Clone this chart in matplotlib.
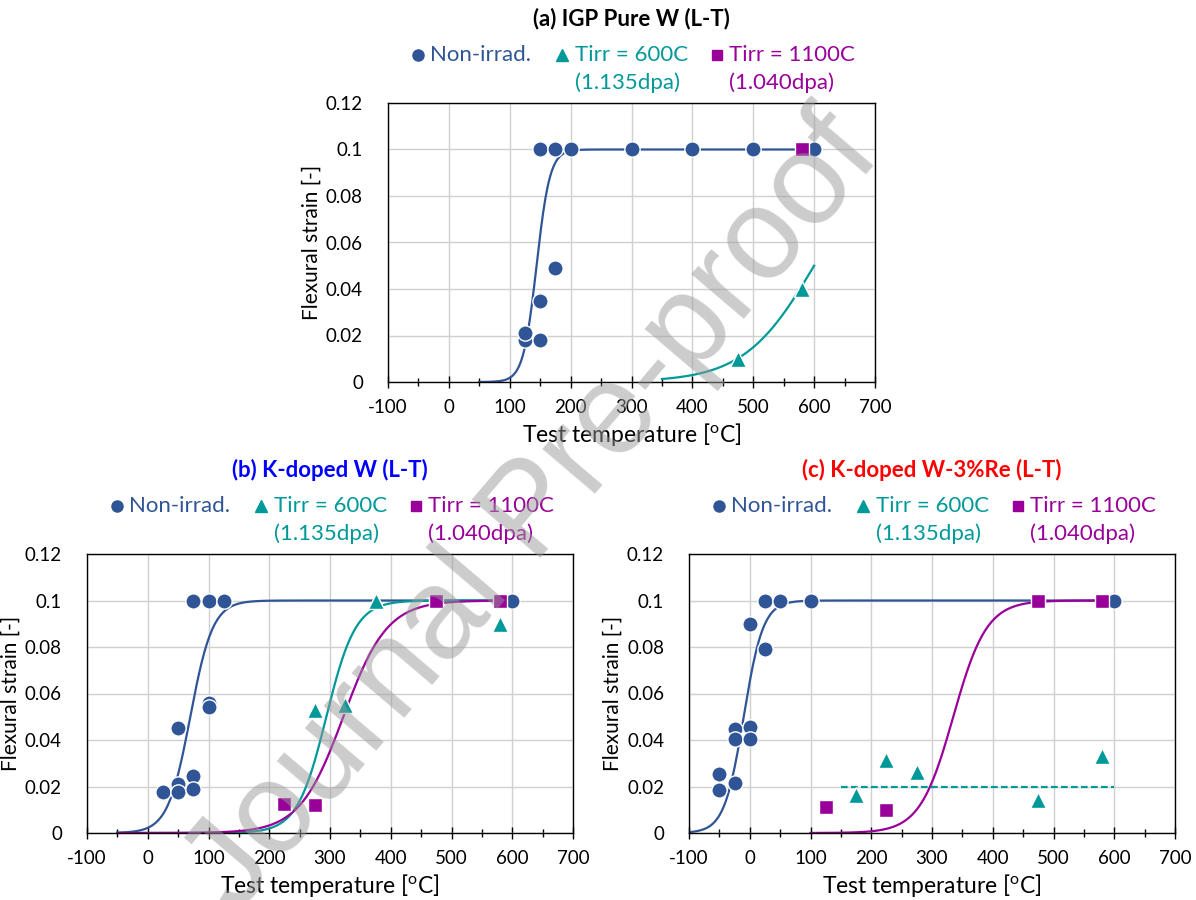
import numpy as np
import matplotlib
matplotlib.use("Agg")
import matplotlib.pyplot as plt
from matplotlib.lines import Line2D
from matplotlib.ticker import MultipleLocator, FuncFormatter

plt.rcParams['font.family'] = ['Lato', 'DejaVu Sans']
plt.rcParams['mathtext.fontset'] = 'custom'
plt.rcParams['mathtext.rm'] = 'Lato'
plt.rcParams['axes.unicode_minus'] = False

BLUE = '#2F5597'
TEAL = '#009999'
PURPLE = '#990099'

# ---- data: (a) IGP pure W ----
a_ni_T = [125, 125, 150, 150, 175, 150, 175, 200, 300, 400, 500, 600]
a_ni_s = [0.018, 0.021, 0.018, 0.035, 0.049, 0.1, 0.1, 0.1, 0.1, 0.1, 0.1, 0.1]
a_600_T = [475, 580]
a_600_s = [0.01, 0.04]
a_1100_T = [580]
a_1100_s = [0.1]

# ---- data: (b) K-doped W ----
b_ni_T = [25, 50, 50, 75, 75, 50, 100, 100, 75, 100, 125, 600]
b_ni_s = [0.0175, 0.021, 0.0175, 0.0245, 0.019, 0.045, 0.056, 0.054, 0.1, 0.1, 0.1, 0.1]
b_600_T = [275, 325, 375, 475, 580]
b_600_s = [0.053, 0.055, 0.1, 0.1, 0.09]
b_1100_T = [225, 275, 475, 580]
b_1100_s = [0.0125, 0.012, 0.1, 0.1]

# ---- data: (c) K-doped W-3%Re ----
c_ni_T = [-50, -50, -25, -25, -25, 0, 0, 0, 25, 25, 50, 100, 600]
c_ni_s = [0.0254, 0.0183, 0.0217, 0.0448, 0.0403, 0.0454, 0.0405, 0.0897, 0.0791, 0.1, 0.1, 0.1, 0.1]
c_600_T = [175, 225, 275, 475, 580]
c_600_s = [0.0164, 0.0314, 0.0264, 0.014, 0.033]
c_1100_T = [125, 225, 475, 580]
c_1100_s = [0.011, 0.010, 0.1, 0.1]
c_600_shelf = [0.02, 150, 600]   # level, from T, to T

# tanh fit parameters: [upper shelf, T0, C, T start, T end]
a_fit_ni = [0.1, 144, 22, 50, 600]
a_fit_600 = [0.1, 600, 115, 350, 600]
b_fit_ni = [0.1, 70, 37, -50, 600]
b_fit_600 = [0.1, 294, 48, -50, 600]
b_fit_1100 = [0.1, 322, 72, -50, 600]
c_fit_ni = [0.1, -10, 32, -100, 600]
c_fit_1100 = [0.1, 335, 55, 100, 600]

W, H = 1196, 900
fig = plt.figure(figsize=(W / 100, H / 100), dpi=100)


def fx(px):
    return px / W


def fy(py):
    return 1 - py / H


def tanh_curve(ax, fit, color):
    upper, T0, C, t1, t2 = fit
    T = np.linspace(t1, t2, 300)
    ax.plot(T, upper / 2 * (1 + np.tanh((T - T0) / C)), color=color, lw=1.6, zorder=2)


def setup(ax, width_px):
    ax.set_xlim(-100, 700)
    ax.set_ylim(0, 0.12)
    ax.xaxis.set_major_locator(MultipleLocator(100))
    ax.xaxis.set_minor_locator(MultipleLocator(50))
    ax.yaxis.set_major_locator(MultipleLocator(0.02))
    ax.yaxis.set_major_formatter(FuncFormatter(lambda v, p: '%g' % round(v, 3)))
    ax.grid(which='major', color='#D0D0D0', lw=1)
    ax.set_axisbelow(True)
    ax.tick_params(axis='x', which='major', direction='inout', length=8, width=1, labelsize=13.5, pad=8)
    ax.tick_params(axis='x', which='minor', direction='inout', length=6, width=1)
    ax.tick_params(axis='y', length=0, labelsize=13.5, pad=18)
    for s in ax.spines.values():
        s.set_color('black')
        s.set_linewidth(1)
    ax.set_xlabel(r'Test temperature [$\mathregular{^{o}}$C]', fontsize=16.5, labelpad=4)
    ax.set_ylabel('Flexural strain [-]', fontsize=15)
    ax.yaxis.set_label_coords(-66 / width_px, 0.5)


def points(ax, T, s, marker, color, ms):
    ax.plot(T, s, ls='none', marker=marker, color=color, ms=ms,
            mec='white', mew=1, zorder=3, clip_on=False)


def header(left, top, width, title, tcolor):
    cx = left + width / 2
    fig.text(fx(cx), fy(top - 84), title, ha='center', va='center',
             fontsize=16, fontweight='bold', color=tcolor)
    y1, y2 = top - 48, top - 20
    items = [('o', BLUE, 29.5, 42, ['Non-irrad.'], 8),
             ('^', TEAL, 174, 187, ['Tirr = 600C', '(1.135dpa)'], 8),
             ('s', PURPLE, 329, 341, ['Tirr = 1100C', '(1.040dpa)'], 7)]
    for m, c, mx, tx, lines, ms in items:
        fig.add_artist(Line2D([fx(left + mx)], [fy(y1)], marker=m, color=c, ms=ms,
                              ls='none', transform=fig.transFigure))
        for k, txt in enumerate(lines):
            fig.text(fx(left + tx), fy(y1 if k == 0 else y2), txt, ha='left', va='center',
                     fontsize=16, color=c)


# axes boxes in pixels: left, top, right, bottom
boxes = {'a': (388, 103, 875, 382), 'b': (87, 554, 573, 833), 'c': (689, 554, 1175, 833)}
axes = {}
for k, (l, t, r, b) in boxes.items():
    axes[k] = fig.add_axes([fx(l), fy(b), (r - l) / W, (b - t) / H])
    setup(axes[k], r - l)

ax = axes['a']
tanh_curve(ax, a_fit_ni, BLUE)
tanh_curve(ax, a_fit_600, TEAL)
points(ax, a_ni_T, a_ni_s, 'o', BLUE, 11)
points(ax, a_600_T, a_600_s, '^', TEAL, 12)
points(ax, a_1100_T, a_1100_s, 's', PURPLE, 10)

ax = axes['b']
tanh_curve(ax, b_fit_ni, BLUE)
tanh_curve(ax, b_fit_600, TEAL)
tanh_curve(ax, b_fit_1100, PURPLE)
points(ax, b_ni_T, b_ni_s, 'o', BLUE, 11)
points(ax, b_600_T, b_600_s, '^', TEAL, 12)
points(ax, b_1100_T, b_1100_s, 's', PURPLE, 10)

ax = axes['c']
tanh_curve(ax, c_fit_ni, BLUE)
tanh_curve(ax, c_fit_1100, PURPLE)
ax.plot(c_600_shelf[1:], [c_600_shelf[0]] * 2, color=TEAL, lw=1.6, ls=(0, (3, 1.5)), zorder=2)
points(ax, c_ni_T, c_ni_s, 'o', BLUE, 11)
points(ax, c_600_T, c_600_s, '^', TEAL, 12)
points(ax, c_1100_T, c_1100_s, 's', PURPLE, 10)

header(388, 103, 487, '(a) IGP Pure W (L-T)', 'black')
header(87, 554, 486, '(b) K-doped W (L-T)', '#0000FF')
header(689, 554, 486, '(c) K-doped W-3%Re (L-T)', '#FF0000')

# watermark
fig.text(fx(534), fy(514), 'Journal Pre-proof', rotation=49.6, rotation_mode='anchor',
         ha='center', va='center', fontsize=93, family='Liberation Sans',
         color='#9A9A9A', alpha=0.5, zorder=10)

fig.savefig('out.png', dpi=100)
